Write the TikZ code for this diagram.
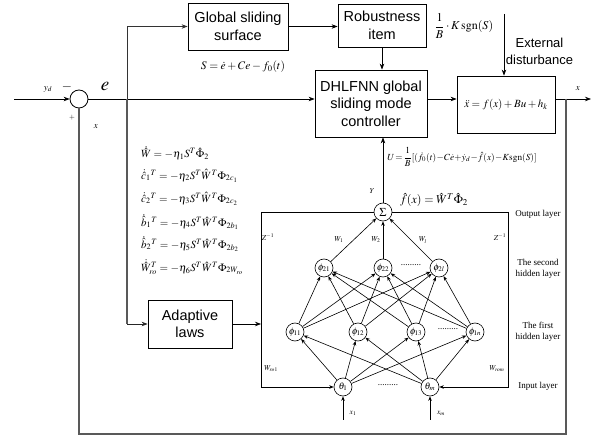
\documentclass[tikz,border=0pt]{standalone}
\usepackage{amsmath}
\usepackage{mathptmx}
\usepackage{fontspec}
\setmainfont{Liberation Serif}
\newfontfamily\arialf{Liberation Sans}
\usetikzlibrary{arrows.meta}
\tikzset{
  blk/.style={draw, line width=0.8pt, align=center, inner sep=0pt,
    font=\arialf\fontsize{14.5}{17.5}\selectfont},
  arr/.style={-{Stealth[length=6pt,width=4.5pt]}, line width=0.7pt},
  narr/.style={-{Stealth[length=4.5pt,width=3.5pt]}, line width=0.6pt},
  fb/.style={draw=gray!70!black, line width=1.1pt},
  neu/.style={circle, draw, line width=0.6pt, minimum size=18pt, inner sep=0pt, fill=white, font=\fontsize{9.5}{10}\selectfont},
  lbl/.style={font=\fontsize{9}{10.5}\selectfont, align=center, inner sep=0pt},
  eq/.style={font=\fontsize{11}{12}\selectfont, inner sep=0pt},
  sm/.style={font=\fontsize{7.5}{9}\selectfont, inner sep=0pt}
}
\begin{document}
\begin{tikzpicture}[x=1pt,y=-1pt]
\useasboundingbox (0,0) rectangle (595,438);
% blocks
\node[blk, minimum width=100pt, minimum height=47pt] (gs) at (238,26.5) {Global sliding\\surface};
\node[blk, minimum width=88pt, minimum height=43pt] (rob) at (382,25.5) {Robustness\\item};
\node[blk, minimum width=112pt, minimum height=67pt] (dh) at (371,103.5) {DHLFNN global\\sliding mode\\controller};
\node[blk, minimum width=98pt, minimum height=57pt, font=\fontsize{11}{13}\selectfont] (pl) at (506,104.5) {$\ddot{x}=f(x)+Bu+h_k$};
\node[blk, minimum width=84pt, minimum height=48pt] (ad) at (190,324) {Adaptive\\laws};
\node[circle, draw, line width=0.8pt, minimum size=18pt, inner sep=0pt] (sum) at (79,99) {};
% coordinates
\coordinate (yin) at (14,99);
\coordinate (br) at (127,99);
\coordinate (out) at (591,99);
\coordinate (fbt) at (566,99);
\coordinate (fbr) at (566,434);
\coordinate (fbl) at (79,434);
\coordinate (dist) at (504,14);
% main connectors
\draw[arr] (yin) -- (sum.west);
\draw[arr] (sum.east) -- (sum.east -| dh.west);
\draw[arr] (sum.east -| dh.east) -- (sum.east -| pl.west);
\draw[arr] (sum.east -| pl.east) -- (out);
\draw[arr] (gs.east) -- (gs.east -| rob.west);
\draw[arr] (rob.south) -- (rob.south |- dh.north);
\draw[arr] (dist) -- (dist |- pl.north);
\draw[arr, draw=gray!40!black, line width=0.9pt] (br) |- (gs.west);
\draw[fb] (fbt) -- (fbr) -- (fbl) -- (sum.south);
\draw[fb] (br) -- (br |- ad.west);
\draw[arr, draw=gray!30!black] (br |- ad.west) -- (ad.west);
% labels
\node[sm, font=\fontsize{9}{10}\selectfont] (lyd) at (48,89) {$y_d$};
\node[font=\fontsize{13}{14}\selectfont, inner sep=0pt] (lminus) at (67,87) {$-$};
\node[sm] (lplus) at (72,118) {$+$};
\node[font=\fontsize{9}{10}\selectfont, inner sep=0pt] (lx) at (96,127) {$x$};
\node[font=\fontsize{19}{20}\selectfont, inner sep=0pt] (le) at (105,86) {$e$};
\node[eq, font=\fontsize{11.5}{12}\selectfont] (seq) at (243,67) {$S=\dot{e}+Ce-f_0(t)$};
\node[eq, font=\fontsize{12}{13}\selectfont] (keq) at (464,26) {$\dfrac{1}{B}\cdot K\,\mathrm{sgn}(S)$};
\node[font=\arialf\fontsize{13}{17}\selectfont, align=center, inner sep=0pt] (ldist) at (539.5,51.5) {External\\disturbance};
\node[font=\fontsize{9}{10}\selectfont, inner sep=0pt] (lxo) at (578,89) {$x$};
% adaptive law equations
\begin{scope}[every node/.style={eq, anchor=west}]
\node (a1) at (141,153) {$\dot{\hat{W}}=-\eta_1 S^T\hat{\Phi}_2$};
\node (a2) at (141,176) {$\dot{\hat{c}}_1{}^T=-\eta_2 S^T\hat{W}^T\Phi_{2c_1}$};
\node (a3) at (141,199) {$\dot{\hat{c}}_2{}^T=-\eta_3 S^T\hat{W}^T\Phi_{2c_2}$};
\node (a4) at (141,222) {$\dot{\hat{b}}_1{}^T=-\eta_4 S^T\hat{W}^T\Phi_{2b_1}$};
\node (a5) at (141,244) {$\dot{\hat{b}}_2{}^T=-\eta_5 S^T\hat{W}^T\Phi_{2b_2}$};
\node (a6) at (141,267) {$\dot{\hat{W}}_{ro}^T=-\eta_6 S^T\hat{W}^T\Phi_{2W_{ro}}$};
\end{scope}
% neural net
\node[neu, font=\fontsize{12}{12}\selectfont] (sig) at (383,212) {$\Sigma$};
\node[neu] (p21) at (324,268) {$\phi_{21}$};
\node[neu] (p22) at (383,268) {$\phi_{22}$};
\node[neu] (p2l) at (439,268) {$\phi_{2l}$};
\node[neu] (p11) at (295,332) {$\phi_{11}$};
\node[neu] (p12) at (358,332) {$\phi_{12}$};
\node[neu] (p13) at (416,332) {$\phi_{13}$};
\node[neu] (p1n) at (475,332) {$\phi_{1n}$};
\node[neu] (t1) at (343,387) {$\theta_1$};
\node[neu] (tm) at (430,387) {$\theta_m$};
\coordinate (x1in) at (343,420);
\coordinate (xmin) at (430,420);
\coordinate (bl) at (261,212);
\coordinate (blb) at (261,387);
\coordinate (brt) at (508,212);
\coordinate (brb) at (508,387);
\draw[line width=0.6pt] (sig.west) -- (bl);
\draw[line width=0.6pt] (sig.east) -- (brt);
\draw[narr] (bl) -- (blb) -- (t1.west);
\draw[narr] (brt) -- (brb) -- (tm.east);
\draw[arr] (ad.east) -- (ad.east -| bl);
\draw[arr] (sig.north) -- (sig.north |- dh.south);
\foreach \a in {t1,tm} \foreach \b in {p11,p12,p13,p1n} \draw[narr] (\a) -- (\b);
\foreach \a in {p11,p12,p13,p1n} \foreach \b in {p21,p22,p2l} \draw[narr] (\a) -- (\b);
\foreach \a in {p21,p22,p2l} \draw[narr] (\a) -- (sig);
\draw[narr, line width=0.9pt] (x1in) -- (t1.south);
\draw[narr, line width=0.9pt] (xmin) -- (tm.south);
% nn labels
\node[lbl] (d2) at (411,265) {.........};
\node[lbl] (d1) at (448,329) {.........};
\node[lbl] (d0) at (388,385) {.........};
\node[sm] (lx1) at (353,413) {$x_1$};
\node[sm] (lxm) at (441,413) {$x_m$};
\node[sm] (lY) at (372,191) {$Y$};
\node[eq, font=\fontsize{9.3}{11}\selectfont] (ueq) at (462,157) {$U\!=\!\dfrac{1}{B}[(\dot{f}_0(t)\!-\!C\dot{e}\!+\!\dot{y}_d\!-\!\hat{f}(x)\!-\!K\mathrm{sgn}(S)]$};
\node[eq, font=\fontsize{12}{13}\selectfont] (feq) at (434,200) {$\hat{f}(x)=\hat{W}^T\hat{\Phi}_2$};
\node[sm] (z1) at (268,237) {$Z^{-1}$};
\node[sm] (z2) at (500,237) {$Z^{-1}$};
\node[sm] (w1) at (339,240) {$W_1$};
\node[sm] (w2) at (376,240) {$W_2$};
\node[sm] (wl) at (423,240) {$W_l$};
\node[sm] (wr1) at (271,369) {$W_{ro1}$};
\node[sm] (wrm) at (497,369) {$W_{rom}$};
\node[lbl] (ol) at (538,214) {Output layer};
\node[lbl] (sl) at (538,269) {The second\\hidden layer};
\node[lbl] (fl) at (538,332) {The first\\hidden layer};
\node[lbl] (il) at (538,386) {Input layer};
\end{tikzpicture}
\end{document}
